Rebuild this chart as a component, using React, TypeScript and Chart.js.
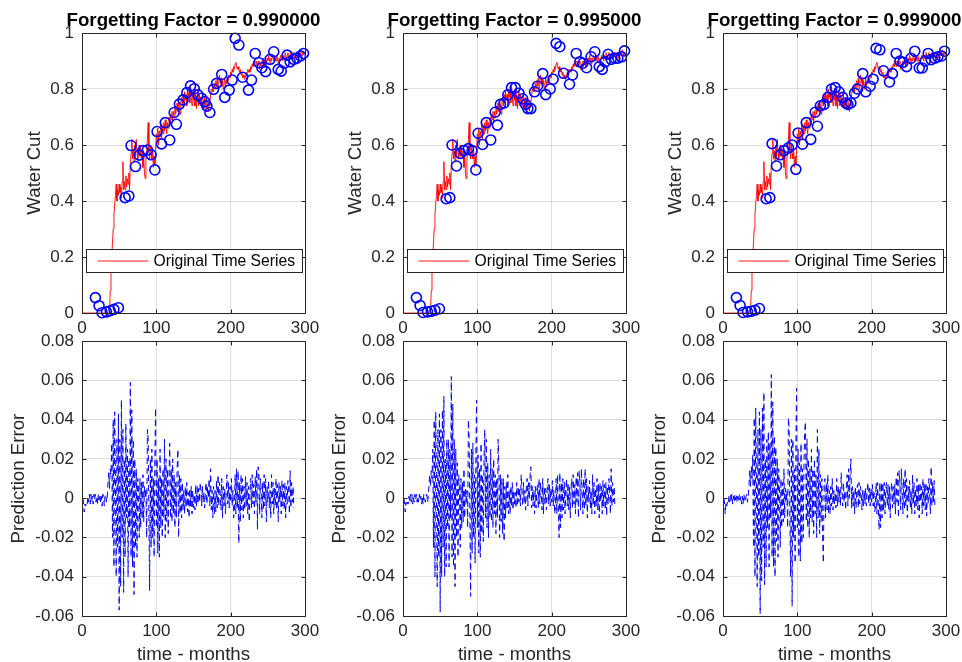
import React, { useEffect, useRef } from "react";
import { Chart, registerables } from "chart.js";

Chart.register(...registerables);

const FONT_FAMILY = "'Liberation Sans', Arial, Helvetica, sans-serif";
const AXIS_COLOR = "#262626";
const GRID_COLOR = "rgba(38, 38, 38, 0.15)";

const forgettingFactors = ["0.990000", "0.995000", "0.999000"];
const xTickValues = [0, 100, 200, 300];
const waterCutTicks = [0, 0.2, 0.4, 0.6, 0.8, 1];
const errorTicks = [-0.06, -0.04, -0.02, 0, 0.02, 0.04, 0.06, 0.08];

// Original water-cut time series, one value per month (months 1..298)
const originalSeries = [
  0, 0, 0, 0, 0, 0, 0, 0, 0, 0,
  0, 0, 0, 0, 0, 0, 0, 0, 0, 0,
  0, 0, 0, 0, 0, 0, 0, 0, 0, 0,
  0, 0, 0, 0, 0, 0, 0, 0.08, 0.15, 0.2,
  0.25, 0.3, 0.35, 0.39, 0.42, 0.46, 0.4, 0.44, 0.42, 0.46,
  0.43, 0.45, 0.41, 0.47, 0.54, 0.44, 0.47, 0.44, 0.49, 0.45,
  0.48, 0.46, 0.5, 0.44, 0.53, 0.57, 0.62, 0.55, 0.58, 0.54,
  0.6, 0.56, 0.62, 0.57, 0.55, 0.58, 0.6, 0.56, 0.59, 0.55,
  0.58, 0.52, 0.56, 0.5, 0.48, 0.55, 0.58, 0.62, 0.68, 0.58,
  0.55, 0.6, 0.57, 0.55, 0.59, 0.52, 0.56, 0.53, 0.58, 0.64,
  0.61, 0.66, 0.6, 0.65, 0.63, 0.68, 0.62, 0.67, 0.64, 0.68,
  0.65, 0.69, 0.66, 0.64, 0.68, 0.66, 0.7, 0.67, 0.71, 0.69,
  0.72, 0.68, 0.72, 0.7, 0.74, 0.71, 0.73, 0.75, 0.72, 0.76,
  0.74, 0.71, 0.75, 0.77, 0.74, 0.78, 0.75, 0.79, 0.76, 0.78,
  0.74, 0.8, 0.77, 0.79, 0.75, 0.81, 0.77, 0.74, 0.79, 0.76,
  0.8, 0.74, 0.78, 0.73, 0.77, 0.79, 0.74, 0.78, 0.75, 0.77,
  0.74, 0.78, 0.76, 0.73, 0.77, 0.75, 0.73, 0.76, 0.74, 0.72,
  0.75, 0.74, 0.78, 0.8, 0.79, 0.81, 0.79, 0.82, 0.8, 0.83,
  0.81, 0.84, 0.8, 0.83, 0.85, 0.82, 0.84, 0.81, 0.83, 0.8,
  0.82, 0.84, 0.81, 0.83, 0.82, 0.84, 0.83, 0.85, 0.84, 0.86,
  0.85, 0.87, 0.86, 0.88, 0.87, 0.89, 0.895, 0.88, 0.87, 0.88,
  0.87, 0.86, 0.87, 0.85, 0.86, 0.84, 0.85, 0.835, 0.85, 0.84,
  0.86, 0.85, 0.87, 0.86, 0.87, 0.86, 0.88, 0.87, 0.89, 0.88,
  0.9, 0.89, 0.88, 0.9, 0.89, 0.88, 0.9, 0.89, 0.87, 0.89,
  0.88, 0.9, 0.89, 0.91, 0.9, 0.88, 0.9, 0.89, 0.91, 0.9,
  0.92, 0.91, 0.89, 0.91, 0.9, 0.92, 0.91, 0.9, 0.92, 0.91,
  0.9, 0.92, 0.91, 0.89, 0.91, 0.9, 0.92, 0.91, 0.92, 0.9,
  0.92, 0.91, 0.93, 0.92, 0.91, 0.92, 0.93, 0.91, 0.92, 0.91,
  0.93, 0.92, 0.91, 0.93, 0.92, 0.91, 0.92, 0.93, 0.92, 0.91,
  0.93, 0.92, 0.93, 0.92, 0.94, 0.93, 0.92, 0.93,
];

// Months at which the predictions (circles) are plotted
const predictionMonths = [
  18, 23, 27, 33, 38, 43, 49, 58, 63, 66, 72, 77, 82, 88, 93, 98, 101, 107, 112, 118,
  124, 127, 131, 136, 141, 146, 151, 156, 161, 165, 168, 172, 177, 181, 188, 192, 198, 202, 206, 211,
  216, 224, 228, 233, 238, 242, 247, 253, 258, 264, 268, 272, 276, 280, 285, 289, 294, 298,
];

const predictionFF990 = [
  0.055, 0.026, 0.001, 0.004, 0.008, 0.013, 0.019, 0.412, 0.418, 0.598, 0.523, 0.564, 0.58, 0.582, 0.565, 0.511, 0.648, 0.604, 0.68, 0.618,
  0.716, 0.674, 0.746, 0.761, 0.787, 0.811, 0.801, 0.779, 0.767, 0.755, 0.739, 0.716, 0.799, 0.82, 0.852, 0.77, 0.796, 0.832, 0.981, 0.957,
  0.842, 0.796, 0.832, 0.927, 0.894, 0.876, 0.862, 0.906, 0.933, 0.87, 0.864, 0.892, 0.921, 0.897, 0.906, 0.91, 0.918, 0.927,
];
const predictionFF995 = [
  0.055, 0.027, 0.002, 0.004, 0.006, 0.01, 0.015, 0.408, 0.412, 0.6, 0.525, 0.57, 0.58, 0.587, 0.58, 0.511, 0.642, 0.602, 0.68, 0.618,
  0.717, 0.671, 0.745, 0.75, 0.779, 0.805, 0.805, 0.785, 0.765, 0.745, 0.73, 0.73, 0.79, 0.81, 0.855, 0.78, 0.8, 0.835, 0.963, 0.951,
  0.856, 0.817, 0.85, 0.927, 0.897, 0.892, 0.876, 0.915, 0.933, 0.88, 0.87, 0.897, 0.924, 0.906, 0.91, 0.91, 0.915, 0.936,
];
const predictionFF999 = [
  0.055, 0.027, 0.002, 0.004, 0.006, 0.01, 0.016, 0.408, 0.412, 0.605, 0.525, 0.565, 0.58, 0.59, 0.6, 0.513, 0.643, 0.603, 0.68, 0.62,
  0.717, 0.667, 0.74, 0.745, 0.77, 0.8, 0.805, 0.79, 0.77, 0.75, 0.745, 0.75, 0.785, 0.8, 0.855, 0.79, 0.81, 0.835, 0.945, 0.94,
  0.865, 0.825, 0.855, 0.927, 0.9, 0.895, 0.88, 0.91, 0.935, 0.875, 0.875, 0.9, 0.927, 0.905, 0.91, 0.915, 0.918, 0.935,
];

// Prediction errors, one value per month (months 1..285)
const errorFF990 = [
  0, -0.002, -0.007, -0.003, -0.004, -0.002, -0.003, 0.001, -0.002, 0.002,
  -0.003, 0.002, -0.002, 0.001, -0.003, 0.002, -0.001, 0.002, -0.002, 0.001,
  -0.003, 0.002, -0.001, 0.002, -0.002, 0.001, -0.004, 0.002, 0.001, -0.004,
  0.001, 0.002, -0.002, 0, 0.008, 0.013, 0.005, 0.015, 0.012, 0.028,
  -0.02, 0.04, -0.035, 0.044, 0.01, -0.04, 0.03, -0.025, 0.043, -0.057,
  0.03, -0.045, 0.05, -0.02, 0.035, -0.048, 0.02, -0.03, 0.038, -0.01,
  0.025, -0.04, 0.02, -0.015, 0.059, -0.03, 0.045, -0.035, 0.03, -0.049,
  0.02, -0.025, 0.015, -0.03, 0.01, 0.005, -0.02, 0.01, -0.015, 0.008,
  -0.01, 0.012, -0.012, 0.006, 0, 0.005, -0.02, 0.035, 0.03, -0.01,
  -0.047, 0.02, -0.025, 0.025, -0.02, 0.01, -0.03, 0.02, 0.046, -0.015,
  0.02, -0.028, 0.01, -0.03, 0.025, -0.015, 0.01, -0.02, 0.015, -0.01,
  0.03, -0.02, 0.02, -0.012, 0.015, -0.018, 0.01, 0.028, -0.01, 0.015,
  -0.012, 0.02, -0.008, 0.012, -0.015, 0.008, -0.01, 0.015, 0.025, -0.02,
  0.012, -0.008, 0.01, -0.01, 0.008, -0.006, 0.004, -0.008, 0.006, -0.005,
  0.008, -0.007, 0.003, -0.01, 0.005, -0.004, 0.006, -0.008, 0.004, -0.005,
  0.002, -0.006, 0.007, -0.004, 0.006, -0.003, 0.005, -0.002, 0.008, 0.004,
  -0.004, 0.006, -0.002, 0.003, -0.005, 0.004, 0.008, -0.003, 0.006, 0,
  0.01, -0.004, 0.015, -0.006, 0.004, -0.01, 0.006, -0.008, 0.004, -0.007,
  0.009, -0.005, 0.012, -0.004, 0.008, 0.002, -0.006, 0.01, -0.01, 0.006,
  -0.004, 0.005, -0.008, 0.004, 0.012, -0.003, 0.008, -0.005, 0.006, -0.002,
  0.01, -0.004, 0.004, -0.01, -0.006, 0.012, -0.008, 0.015, -0.005, 0.014,
  -0.023, 0.008, -0.012, 0.012, -0.006, 0.01, -0.01, 0.006, -0.006, 0.011,
  -0.004, 0.008, -0.008, 0.006, -0.012, 0.004, 0.01, -0.005, 0.012, -0.003,
  0.007, -0.008, 0.011, -0.002, 0.015, -0.016, 0.016, 0.012, -0.008, 0.01,
  0.005, -0.01, 0.008, -0.006, 0.012, -0.004, 0.01, -0.012, 0.006, -0.002,
  0.009, -0.005, 0.004, -0.01, 0.012, -0.003, 0.008, -0.008, 0.005, -0.004,
  0.01, -0.006, 0.007, -0.012, 0.008, -0.002, 0.006, -0.008, 0.009, -0.004,
  0.007, -0.006, 0.008, -0.01, 0.006, -0.003, 0.009, 0.004, -0.008, 0.014,
  -0.005, 0.008, -0.002, 0.006, -0.005,
];
const errorFF995 = [
  0, -0.002, -0.007, -0.002, -0.004, -0.002, -0.003, 0.001, -0.002, 0.002,
  -0.002, 0.002, -0.003, 0.001, -0.002, 0.002, -0.001, 0.002, -0.002, 0.001,
  -0.002, 0.002, -0.001, 0.001, -0.003, 0.001, -0.003, 0.002, 0, -0.002,
  0.001, 0.002, -0.002, 0.001, 0.007, 0.012, 0.006, 0.014, 0.01, 0.025,
  -0.025, 0.04, -0.04, 0.044, 0.008, -0.045, 0.035, -0.03, 0.043, -0.058,
  0.035, -0.04, 0.045, -0.025, 0.052, -0.04, 0.02, -0.035, 0.03, -0.015,
  0.03, -0.035, 0.025, -0.01, 0.062, -0.03, 0.048, -0.035, 0.03, -0.045,
  0.025, -0.02, 0.018, -0.03, 0.012, 0.004, -0.025, 0.01, -0.015, 0.008,
  -0.012, 0.015, -0.01, 0.005, -0.002, 0.004, -0.015, 0.04, 0.03, -0.012,
  -0.05, 0.025, -0.028, 0.028, -0.02, 0.012, -0.033, 0.022, 0.05, -0.015,
  0.022, -0.028, 0.015, -0.03, 0.028, -0.018, 0.012, -0.022, 0.02, 0.035,
  -0.01, 0.03, -0.015, 0.018, -0.02, 0.012, -0.01, 0.025, -0.012, 0.015,
  -0.015, 0.02, -0.008, 0.012, -0.018, 0.01, -0.01, 0.03, 0.015, -0.02,
  0.012, -0.012, 0.01, -0.018, 0.01, -0.022, 0.006, -0.01, 0.008, -0.006,
  0.012, -0.008, 0.004, -0.008, 0.006, -0.004, 0.008, -0.006, 0.004, -0.003,
  0.003, -0.005, 0.008, -0.004, 0.006, -0.002, 0.005, -0.004, 0.012, 0.004,
  -0.004, 0.008, -0.002, 0.004, -0.006, 0.006, 0.01, -0.004, 0.008, 0,
  0.012, 0.016, -0.005, 0.006, -0.004, 0.004, -0.008, 0.006, -0.005, 0.004,
  0.007, -0.005, 0.01, -0.003, 0.008, 0.002, -0.006, 0.01, -0.008, 0.006,
  -0.003, 0.005, -0.006, 0.004, 0.01, -0.003, 0.007, -0.004, 0.005, -0.002,
  0.009, -0.004, 0.004, -0.008, -0.005, 0.01, -0.008, 0.012, -0.005, -0.02,
  0.013, -0.015, 0.008, -0.01, 0.01, -0.006, 0.008, -0.008, 0.005, 0.01,
  -0.004, 0.008, -0.006, 0.006, -0.01, 0.004, 0.01, -0.005, 0.012, -0.003,
  0.007, -0.008, 0.011, -0.002, 0.013, -0.01, 0.014, 0.008, -0.006, 0.015,
  0.004, -0.008, 0.01, -0.006, 0.015, -0.004, 0.01, -0.01, 0.006, -0.002,
  0.009, -0.005, 0.004, -0.008, 0.012, -0.003, 0.008, -0.008, 0.005, -0.004,
  0.01, -0.006, 0.007, -0.01, 0.008, -0.002, 0.006, -0.008, 0.009, -0.004,
  0.007, -0.006, 0.008, -0.009, 0.006, -0.003, 0.01, 0.004, -0.008, 0.015,
  -0.004, 0.008, -0.002, 0.006, -0.003,
];
const errorFF999 = [
  0, -0.002, -0.008, -0.002, -0.004, -0.002, -0.003, 0.001, -0.002, 0.002,
  -0.002, 0.002, -0.003, 0.001, -0.002, 0.002, -0.001, 0.002, -0.002, 0.001,
  -0.002, 0.002, -0.001, 0.001, -0.003, 0.001, -0.003, 0.002, 0, -0.002,
  0.001, 0.002, -0.002, 0.001, 0.007, 0.014, 0.006, 0.016, 0.01, 0.022,
  -0.025, 0.041, -0.04, 0.046, 0.008, -0.045, 0.035, -0.03, 0.044, -0.059,
  0.035, -0.042, 0.046, -0.025, 0.054, -0.044, 0.02, -0.035, 0.03, -0.015,
  0.034, -0.035, 0.028, -0.01, 0.063, -0.03, 0.049, -0.035, 0.032, -0.04,
  0.026, -0.022, 0.02, -0.03, 0.015, 0.004, -0.025, 0.01, -0.015, 0.008,
  -0.012, 0.015, -0.01, 0.005, -0.002, 0.004, -0.015, 0.041, 0.035, -0.012,
  -0.04, 0.03, -0.055, 0.03, -0.02, 0.015, -0.033, 0.025, 0.056, -0.015,
  0.025, -0.03, 0.018, -0.032, 0.028, -0.023, 0.015, -0.02, 0.02, 0.035,
  0.039, -0.012, 0.03, -0.015, 0.02, -0.02, 0.015, -0.01, 0.025, -0.012,
  0.015, -0.018, 0.02, -0.008, 0.012, -0.02, 0.035, -0.01, 0.025, -0.018,
  0.012, -0.012, 0.01, -0.02, -0.033, 0.006, 0.01, -0.01, 0.008, -0.006,
  0.012, -0.008, 0.004, -0.008, 0.006, -0.004, 0.01, -0.006, 0.004, -0.003,
  0.003, -0.005, 0.01, -0.004, 0.006, -0.002, 0.005, -0.004, 0.013, 0.004,
  -0.004, 0.008, -0.002, 0.004, -0.006, 0.006, 0.012, -0.004, 0.015, 0,
  0.012, 0.02, -0.005, 0.006, -0.004, 0.004, -0.008, 0.006, -0.005, 0.004,
  0.007, -0.005, 0.008, -0.003, 0.006, 0.002, -0.006, 0.004, -0.004, 0.004,
  -0.003, 0.005, -0.004, 0.004, 0.008, -0.003, 0.005, -0.004, 0.005, -0.002,
  0.007, -0.004, 0.004, -0.007, -0.005, 0.008, -0.008, 0.008, -0.005, -0.016,
  0.008, -0.015, 0.008, -0.01, 0.008, -0.006, 0.008, -0.008, 0.005, 0.008,
  -0.004, 0.007, -0.006, 0.006, -0.01, 0.004, 0.008, -0.005, 0.006, -0.003,
  0.007, -0.008, 0.011, -0.002, 0.013, -0.01, 0.014, 0.008, -0.006, 0.015,
  0.004, -0.008, 0.01, -0.006, 0.015, -0.004, 0.01, -0.01, 0.006, -0.002,
  0.009, -0.005, 0.004, -0.008, 0.012, -0.003, 0.008, -0.008, 0.005, -0.004,
  0.01, -0.006, 0.007, -0.01, 0.008, -0.002, 0.006, -0.008, 0.01, -0.004,
  0.007, -0.006, 0.008, -0.009, 0.006, -0.003, 0.01, 0.004, -0.008, 0.016,
  -0.004, 0.008, -0.002, 0.009, -0.004,
];

const predictionSets = [predictionFF990, predictionFF995, predictionFF999];
const errorSets = [errorFF990, errorFF995, errorFF999];

// ---- layout (pixels) ----
const AXES_LEFT = [82, 403, 723];
const Y_SCALE_W = 82;
const PLOT_W = 223;
const RIGHT_PAD = 20;
const CANVAS_W = Y_SCALE_W + PLOT_W + RIGHT_PAD;
const TOP_CANVAS = { top: 0, height: 343, padTop: 33, xScaleH: 30 };
const BOTTOM_CANVAS = { top: 323, height: 343, padTop: 12, xScaleH: 50 };

const fmt = (v: number) => String(Number(Number(v).toFixed(2)));

const matlabFrame = {
  id: "matlabFrame",
  afterDraw(chart: any, _args: any, opts: any) {
    const { ctx, chartArea: a, scales } = chart;
    ctx.save();
    const L = Math.round(a.left) + 0.5;
    const R = Math.round(a.right) + 0.5;
    const T = Math.round(a.top) + 0.5;
    const B = Math.round(a.bottom) + 0.5;
    const tl = 4;
    ctx.strokeStyle = AXIS_COLOR;
    ctx.lineWidth = 1;
    ctx.setLineDash([]);
    ctx.beginPath();
    for (const v of opts.xTicks) {
      const px = Math.round(scales.x.getPixelForValue(v)) + 0.5;
      ctx.moveTo(px, B);
      ctx.lineTo(px, B - tl);
      ctx.moveTo(px, T);
      ctx.lineTo(px, T + tl);
    }
    for (const v of opts.yTicks) {
      const py = Math.round(scales.y.getPixelForValue(v)) + 0.5;
      ctx.moveTo(L, py);
      ctx.lineTo(L + tl, py);
      ctx.moveTo(R, py);
      ctx.lineTo(R - tl, py);
    }
    ctx.rect(L, T, R - L, B - T);
    ctx.stroke();

    if (opts.title) {
      ctx.fillStyle = "#000";
      ctx.font = `bold 18.7px ${FONT_FAMILY}`;
      ctx.textAlign = "center";
      ctx.textBaseline = "alphabetic";
      ctx.fillText(opts.title, (a.left + a.right) / 2, a.top - 7);
    }

    if (opts.legendDataset !== undefined && opts.legendDataset !== null) {
      const ds = chart.data.datasets[opts.legendDataset];
      const bx = Math.round(a.left) + 4.5;
      const by = Math.round(a.top) + 216.5;
      const bw = 216;
      const bh = 23;
      ctx.fillStyle = "#ffffff";
      ctx.fillRect(bx, by, bw, bh);
      ctx.strokeStyle = AXIS_COLOR;
      ctx.lineWidth = 1;
      ctx.strokeRect(bx, by, bw, bh);
      const cy = by + bh / 2;
      ctx.beginPath();
      ctx.strokeStyle = ds.borderColor;
      ctx.lineWidth = ds.borderWidth;
      ctx.moveTo(bx + 11, cy);
      ctx.lineTo(bx + 62, cy);
      ctx.stroke();
      ctx.fillStyle = "#000";
      ctx.font = `15.7px ${FONT_FAMILY}`;
      ctx.textAlign = "left";
      ctx.textBaseline = "middle";
      ctx.fillText(ds.label, bx + 67, cy + 0.5);
    }
    ctx.restore();
  },
};

function makeScales(opts: {
  yTicks: number[];
  yTitle: string;
  yTitlePad: number;
  xTitle?: string;
  xScaleH: number;
}) {
  return {
    x: {
      type: "linear",
      min: 0,
      max: 300,
      afterFit: (s: any) => {
        s.height = opts.xScaleH;
      },
      afterBuildTicks: (s: any) => {
        s.ticks = xTickValues.map((v) => ({ value: v }));
      },
      grid: { color: GRID_COLOR, drawTicks: false, lineWidth: 1 },
      border: { display: false },
      ticks: {
        color: AXIS_COLOR,
        padding: 5,
        maxRotation: 0,
        autoSkip: false,
        font: { family: FONT_FAMILY, size: 17 },
        callback: (v: any) => fmt(v),
      },
      title: opts.xTitle
        ? {
            display: true,
            text: opts.xTitle,
            color: AXIS_COLOR,
            font: { family: FONT_FAMILY, size: 18.7 },
            padding: { top: 0, bottom: 0 },
          }
        : { display: false },
    },
    y: {
      type: "linear",
      min: opts.yTicks[0],
      max: opts.yTicks[opts.yTicks.length - 1],
      afterFit: (s: any) => {
        s.width = Y_SCALE_W;
      },
      afterBuildTicks: (s: any) => {
        s.ticks = opts.yTicks.map((v) => ({ value: v }));
      },
      grid: { color: GRID_COLOR, drawTicks: false, lineWidth: 1 },
      border: { display: false },
      ticks: {
        color: AXIS_COLOR,
        padding: 8,
        autoSkip: false,
        font: { family: FONT_FAMILY, size: 17 },
        callback: (v: any) => fmt(v),
      },
      title: {
        display: true,
        text: opts.yTitle,
        color: AXIS_COLOR,
        font: { family: FONT_FAMILY, size: 18.7 },
        padding: { top: opts.yTitlePad, bottom: 0 },
      },
    },
  };
}

export default function App() {
  const topRefs = useRef<(HTMLCanvasElement | null)[]>([]);
  const bottomRefs = useRef<(HTMLCanvasElement | null)[]>([]);

  useEffect(() => {
    const charts: Chart[] = [];
    forgettingFactors.forEach((ff, i) => {
      const topCanvas = topRefs.current[i];
      const bottomCanvas = bottomRefs.current[i];
      if (!topCanvas || !bottomCanvas) return;

      const predPoints = predictionMonths.map((m, k) => ({ x: m, y: predictionSets[i][k] }));
      const origPoints = originalSeries.map((y, k) => ({ x: k + 1, y }));
      const errPoints = errorSets[i].map((y, k) => ({ x: k + 1, y }));

      charts.push(
        new Chart(topCanvas, {
          type: "line",
          data: {
            datasets: [
              {
                label: "Prediction",
                data: predPoints,
                showLine: false,
                pointRadius: 5,
                pointBorderWidth: 1.6,
                pointBorderColor: "#0000ff",
                pointBackgroundColor: "rgba(0,0,0,0)",
                borderColor: "#0000ff",
                clip: false,
              } as any,
              {
                label: "Original Time Series",
                data: origPoints,
                borderColor: "#ff0000",
                borderWidth: 0.9,
                pointRadius: 0,
                tension: 0,
              },
            ],
          },
          options: {
            animation: false,
            responsive: false,
            devicePixelRatio: 1,
            events: [],
            layout: { padding: { top: TOP_CANVAS.padTop, right: RIGHT_PAD, left: 0, bottom: 0 } },
            scales: makeScales({
              yTicks: waterCutTicks,
              yTitle: "Water Cut",
              yTitlePad: 23.5,
              xScaleH: TOP_CANVAS.xScaleH,
            }) as any,
            plugins: {
              legend: { display: false },
              tooltip: { enabled: false },
              matlabFrame: {
                xTicks: xTickValues,
                yTicks: waterCutTicks,
                title: `Forgetting Factor = ${ff}`,
                legendDataset: 1,
              },
            } as any,
          },
          plugins: [matlabFrame],
        })
      );

      charts.push(
        new Chart(bottomCanvas, {
          type: "line",
          data: {
            datasets: [
              {
                label: "Prediction Error",
                data: errPoints,
                borderColor: "#0000ff",
                borderWidth: 1,
                borderDash: [6, 4],
                pointRadius: 0,
                tension: 0,
              },
            ],
          },
          options: {
            animation: false,
            responsive: false,
            devicePixelRatio: 1,
            events: [],
            layout: { padding: { top: BOTTOM_CANVAS.padTop, right: RIGHT_PAD, left: 0, bottom: 0 } },
            scales: makeScales({
              yTicks: errorTicks,
              yTitle: "Prediction Error",
              yTitlePad: 7.6,
              xTitle: "time - months",
              xScaleH: BOTTOM_CANVAS.xScaleH,
            }) as any,
            plugins: {
              legend: { display: false },
              tooltip: { enabled: false },
              matlabFrame: {
                xTicks: xTickValues,
                yTicks: errorTicks,
              },
            } as any,
          },
          plugins: [matlabFrame],
        })
      );
    });
    return () => charts.forEach((c) => c.destroy());
  }, []);

  return (
    <div
      style={{
        position: "fixed",
        left: 0,
        top: 0,
        width: 962,
        height: 662,
        overflow: "hidden",
        background: "#ffffff",
      }}
    >
      {forgettingFactors.map((ff, i) => (
        <React.Fragment key={ff}>
          <canvas
            ref={(el) => {
              topRefs.current[i] = el;
            }}
            width={CANVAS_W}
            height={TOP_CANVAS.height}
            style={{
              position: "absolute",
              left: AXES_LEFT[i] - Y_SCALE_W,
              top: TOP_CANVAS.top,
              width: CANVAS_W,
              height: TOP_CANVAS.height,
            }}
          />
          <canvas
            ref={(el) => {
              bottomRefs.current[i] = el;
            }}
            width={CANVAS_W}
            height={BOTTOM_CANVAS.height}
            style={{
              position: "absolute",
              left: AXES_LEFT[i] - Y_SCALE_W,
              top: BOTTOM_CANVAS.top,
              width: CANVAS_W,
              height: BOTTOM_CANVAS.height,
            }}
          />
        </React.Fragment>
      ))}
    </div>
  );
}
